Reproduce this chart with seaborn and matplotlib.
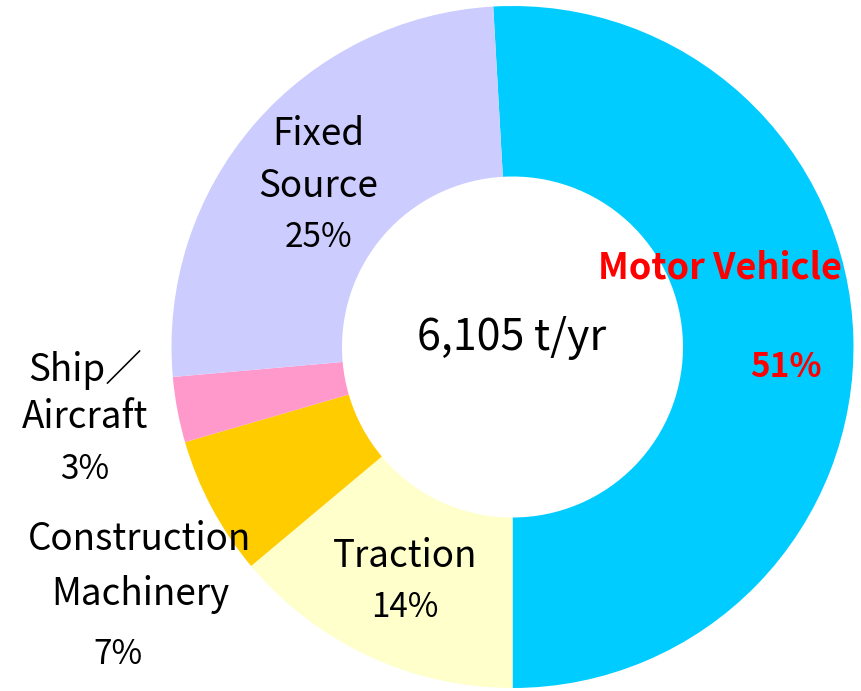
import matplotlib
matplotlib.use("Agg")
import matplotlib.pyplot as plt
import seaborn as sns

# ---- data ----
categories = ["Motor Vehicle", "Traction", "Construction\nMachinery", "Ship／\nAircraft", "Fixed\nSource"]
shares = [50.9, 13.9, 6.6, 3.1, 25.5]          # percent of total
label_pct = ["51%", "14%", "7%", "3%", "25%"]
colors = ["#00CCFF", "#FFFFCC", "#FFCC00", "#FF99CC", "#CCCCFF"]
total_text = "6,105 t/yr"

sns.set_theme(style="white")
plt.rcParams["font.family"] = ["Noto Sans CJK JP", "DejaVu Sans"]
plt.rcParams["text.color"] = "black"

W, H = 862, 691
fig = plt.figure(figsize=(W / 100, H / 100), dpi=100)
ax = fig.add_axes([0, 0, 1, 1])

cx, cy, R = 512.5, 347.0, 341.0  # pixel centre and radius


def d(px, py):
    return (px - cx) / R, (cy - py) / R


start = -90 + 360 * shares[0] / sum(shares)
ax.pie(shares, colors=colors, startangle=start, counterclock=False,
       radius=1.0, wedgeprops=dict(width=0.5, linewidth=0))

ax.set_xlim(d(0, 0)[0], d(W, 0)[0])
ax.set_ylim(d(0, H)[1], d(0, 0)[1])
ax.set_aspect("equal")
ax.axis("off")

fs = 26.5
fp = 24
kw = dict(ha="center", va="center", color="black")
# label layout (pixel positions)
ax.text(*d(720, 268), "Motor Vehicle", fontsize=26, fontweight="bold", **{**kw, "color": "red"})
ax.text(*d(786, 368), label_pct[0], fontsize=fp, fontweight="bold", **{**kw, "color": "red"})

ax.text(*d(405, 557), "Traction", fontsize=fs, **kw)
ax.text(*d(405, 608), label_pct[1], fontsize=fp, **kw)

ax.text(*d(140, 540), "Construction", fontsize=fs, **kw)
ax.text(*d(140, 595), "Machinery", fontsize=fs, **kw)
ax.text(*d(118, 655), label_pct[2], fontsize=fp, **kw)

ax.text(*d(85, 370), "Ship／", fontsize=fs, **kw)
ax.text(*d(85, 418), "Aircraft", fontsize=fs, **kw)
ax.text(*d(85, 470), label_pct[3], fontsize=fp, **kw)

ax.text(*d(318, 135), "Fixed", fontsize=fs, **kw)
ax.text(*d(318, 187), "Source", fontsize=fs, **kw)
ax.text(*d(318, 238), label_pct[4], fontsize=fp, **kw)

ax.text(*d(512, 338), total_text, fontsize=31, **kw)

fig.savefig("out.png", dpi=100)
